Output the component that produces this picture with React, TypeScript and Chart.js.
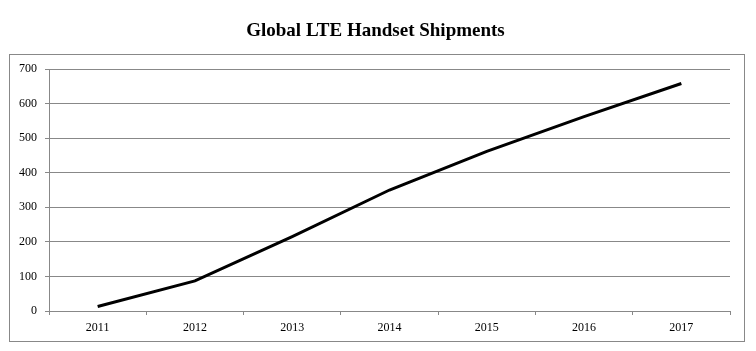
import React, { useEffect, useRef } from "react";
import { Chart, registerables } from "chart.js";

Chart.register(...registerables);

const years = ["2011", "2012", "2013", "2014", "2015", "2016", "2017"];
const shipments = [13, 87, 215, 350, 462, 562, 658];
const titleText = "Global LTE Handset Shipments";

const FONT = "'Times New Roman', 'Liberation Serif', serif";
const GRID = "#888888";

const framePlugin = {
  id: "frame",
  beforeDraw(chart: any) {
    const ctx = chart.ctx;
    ctx.save();
    ctx.strokeStyle = GRID;
    ctx.lineWidth = 1;
    ctx.strokeRect(9.5, 54.5, 735, 287);
    ctx.restore();
  },
};

export default function App() {
  const ref = useRef<HTMLCanvasElement>(null);
  useEffect(() => {
    document.body.style.margin = "0";
    const chart = new Chart(ref.current!, {
      type: "line",
      data: {
        labels: years,
        datasets: [
          {
            data: shipments,
            borderColor: "#000000",
            borderWidth: 3,
            pointRadius: 0,
            tension: 0,
            fill: false,
          },
        ],
      },
      plugins: [framePlugin],
      options: {
        responsive: false,
        animation: false,
        layout: { padding: { left: 0, right: 5, top: 0, bottom: 0 } },
        plugins: {
          legend: { display: false },
          tooltip: { enabled: false },
          title: {
            display: true,
            text: titleText,
            color: "#000000",
            font: { family: FONT, size: 19, weight: "bold", lineHeight: 1.2 },
            padding: { top: 19.6, bottom: 26.6 },
          },
        },
        scales: {
          x: {
            type: "category",
            offset: true,
            afterFit: (s: any) => {
              s.height = 40;
            },
            grid: {
              display: true,
              offset: true,
              drawOnChartArea: false,
              drawTicks: true,
              tickLength: 4,
              color: GRID,
            },
            border: { display: true, color: GRID, width: 1 },
            ticks: {
              color: "#000000",
              font: { family: FONT, size: 12 },
              padding: 6,
              maxRotation: 0,
            },
          },
          y: {
            min: 0,
            max: 700,
            afterFit: (s: any) => {
              s.width = 49;
            },
            grid: {
              color: GRID,
              drawTicks: true,
              tickLength: 4,
            },
            border: { display: true, color: GRID, width: 1 },
            ticks: {
              stepSize: 100,
              color: "#000000",
              font: { family: FONT, size: 12 },
              padding: 8,
            },
          },
          spacer: {
            type: "linear",
            position: "right",
            display: true,
            afterFit: (s: any) => {
              s.width = 21;
            },
            grid: { display: false, drawOnChartArea: false },
            border: { display: false },
            ticks: { display: false },
          },
        },
      },
    });
    return () => chart.destroy();
  }, []);
  return (
    <div style={{ position: "absolute", left: 0, top: 0, width: 756, height: 351, background: "#ffffff" }}>
      <canvas ref={ref} width={756} height={351} style={{ display: "block" }} />
    </div>
  );
}
